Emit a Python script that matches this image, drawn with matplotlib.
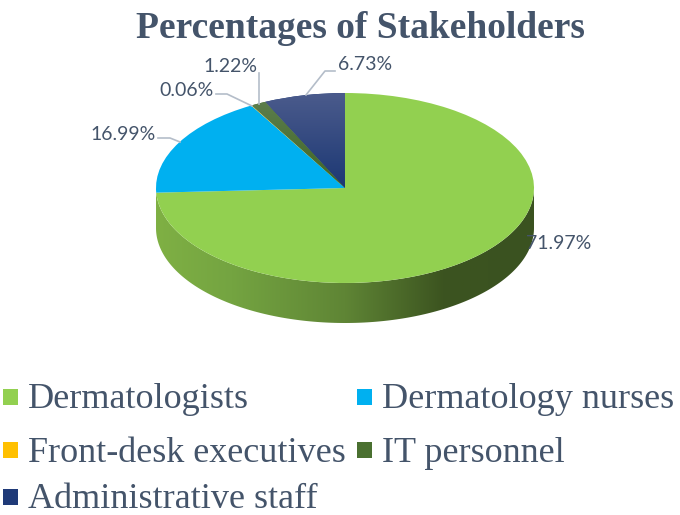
import numpy as np
import matplotlib
matplotlib.use("Agg")
import matplotlib.pyplot as plt
from matplotlib.colors import LinearSegmentedColormap
from matplotlib.patches import Rectangle, PathPatch
from matplotlib.path import Path

categories = ["Dermatologists", "Dermatology nurses", "Front-desk executives", "IT personnel", "Administrative staff"]
values = [71.97, 16.99, 0.06, 1.22, 6.73]
colors = ["#92D050", "#00B0F0", "#FFC000", "#4A7030", "#1F3A78"]
title = "Percentages of Stakeholders"
TXT = "#44546A"
W, H = 680, 515
CX, CY, RX, RY, DEPTH = 345, 188, 189, 95, 40

fig = plt.figure(figsize=(W/100, H/100), dpi=100, facecolor="white")
xlim = (-1.2, 1.2)
ylim = (-1.6, 1.2)
left = CX + xlim[0]*RX
bottom_px = CY - ylim[0]*RY
ax = fig.add_axes([left/W, 1-bottom_px/H, (xlim[1]-xlim[0])*RX/W, (ylim[1]-ylim[0])*RY/H])
d = DEPTH/RY

# side wall
t = np.linspace(np.pi, 2*np.pi, 200)
xs = np.cos(t)
verts = np.r_[np.c_[xs, np.sin(t)], np.c_[xs[::-1], np.sin(t[::-1])-d], [[-1, 0]]]
codes = [Path.MOVETO] + [Path.LINETO]*(len(verts)-2) + [Path.CLOSEPOLY]
wall = PathPatch(Path(verts, codes), fc="none", ec="none")
ax.add_patch(wall)
cm = LinearSegmentedColormap.from_list("wall", [(0, "#7FB044"), (0.2, "#74A441"), (0.5, "#5F8535"), (0.76, "#3C5420"), (1, "#3A5220")])
im = ax.imshow(np.linspace(0, 1, 256)[None, :], extent=(-1, 1, -1-d, 0), cmap=cm, aspect="auto", zorder=1)
im.set_clip_path(wall)

# top face
wedges, _ = ax.pie(values, colors=colors, startangle=90, counterclock=False, radius=1,
                   wedgeprops=dict(linewidth=0, zorder=3))
for w in wedges:
    w.set_zorder(3)
ax.set_aspect("auto")

# vertical sheen on the two dark wedges
for idx, top_c, bot_c in [(4, "#4B5B8C", "#1C3874"), (3, "#5F8050", "#3F6524")]:
    c = LinearSegmentedColormap.from_list("g%d" % idx, [top_c, bot_c])
    g = ax.imshow(np.linspace(0, 1, 128)[:, None], extent=(-1, 1, 0, 1), cmap=c, aspect="auto", zorder=4, origin="upper")
    g.set_clip_path(wedges[idx])

ax.set_xlim(*xlim)
ax.set_ylim(*ylim)
ax.axis("off")

def fx(x):
    return x/W
def fy(y):
    return 1-y/H

# leader lines
leaders = [[(158, 138), (170, 138), (180, 142)],
           [(216, 94), (227, 94), (252, 106)],
           [(259, 73), (259, 104)],
           [(335, 71), (325, 71), (306, 95)]]
for pts in leaders:
    fig.add_artist(plt.Line2D([fx(p[0]) for p in pts], [fy(p[1]) for p in pts], color="#B4BDC9", lw=1.2))

# data labels
lab_font = "Lato"
label_pos = [(559, 244), (123, 135), (186, 91), (230, 66), (365, 65)]
for v, (x, y) in zip(values, label_pos):
    fig.text(fx(x), fy(y), f"{v:.2f}%", color=TXT, fontsize=14, family=lab_font, ha="center", va="center")

# title
fig.text(fx(360), fy(29), title, color=TXT, fontsize=27, family="Liberation Serif", weight="bold", ha="center", va="center")

# legend
leg_pos = [(3, 400), (357, 400), (3, 453), (357, 453), (3, 500)]
for cat, col, (x, y) in zip(categories, colors, leg_pos):
    fig.add_artist(Rectangle((fx(x), fy(y+5)), 15/W, 16/H, transform=fig.transFigure, fc=col, ec="none"))
    fig.text(fx(x+25), fy(y), cat, color=TXT, fontsize=26, family="Liberation Serif", ha="left", va="center")

fig.savefig("out.png", dpi=100)
